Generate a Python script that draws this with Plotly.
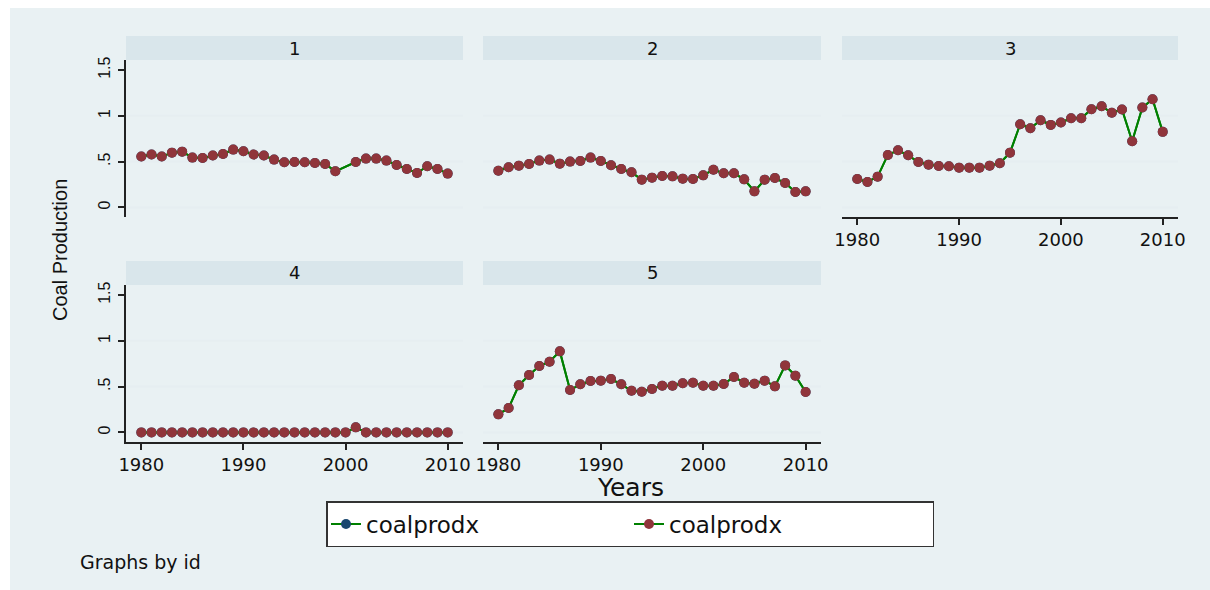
import plotly.graph_objects as go

# ---------------- data ----------------
years = list(range(1980, 2011))
panel_ids = ["1", "2", "3", "4", "5"]

coal_1 = [0.555, 0.577, 0.555, 0.598, 0.609, 0.544, 0.540, 0.566, 0.584, 0.631,
          0.613, 0.577, 0.566, 0.522, 0.493, 0.496, 0.493, 0.485, 0.474, 0.394,
          None, 0.496, 0.533, 0.533, 0.511, 0.463, 0.420, 0.376, 0.449, 0.420,
          0.369]
coal_2 = [0.401, 0.438, 0.456, 0.474, 0.511, 0.522, 0.478, 0.500, 0.507, 0.544,
          0.507, 0.460, 0.420, 0.383, 0.303, 0.325, 0.343, 0.339, 0.314, 0.310,
          0.350, 0.412, 0.372, 0.372, 0.306, 0.175, 0.303, 0.321, 0.266, 0.168,
          0.175]
coal_3 = [0.310, 0.278, 0.336, 0.573, 0.624, 0.569, 0.496, 0.467, 0.452, 0.449,
          0.434, 0.434, 0.434, 0.456, 0.482, 0.598, 0.908, 0.864, 0.952, 0.901,
          0.927, 0.974, 0.974, 1.072, 1.105, 1.033, 1.069, 0.722, 1.091, 1.181,
          0.825]
coal_4 = [0.0, 0.0, 0.0, 0.0, 0.0, 0.0, 0.0, 0.0, 0.0, 0.0,
          0.0, 0.0, 0.0, 0.0, 0.0, 0.0, 0.0, 0.0, 0.0, 0.0,
          0.0, 0.055, 0.0, 0.0, 0.0, 0.0, 0.0, 0.0, 0.0, 0.0,
          0.0]
coal_5 = [0.197, 0.266, 0.514, 0.627, 0.725, 0.772, 0.885, 0.463, 0.525, 0.561,
          0.565, 0.583, 0.525, 0.455, 0.444, 0.474, 0.510, 0.510, 0.536, 0.543,
          0.510, 0.510, 0.528, 0.605, 0.543, 0.532, 0.565, 0.503, 0.732, 0.619,
          0.441]
series = [coal_1, coal_2, coal_3, coal_4, coal_5]

series_names = ["coalprodx", "coalprodx"]
x_tickvals = [1980, 1990, 2000, 2010]
x_ticktext = ["1980", "1990", "2000", "2010"]
y_tickvals = [0, 0.5, 1, 1.5]
y_ticktext = ["0", ".5", "1", "1.5"]
grid_values = [0, 0.5, 1]

x_title = "Years"
y_title = "Coal Production"
note_text = "Graphs by id"

# ---------------- style / layout ----------------
W, H = 1210, 590
BG = "#e9f1f3"
STRIP = "#d9e6eb"
GRID = "#e6eef1"
LINE_GREEN = "#008000"
MAROON = "#90353b"
NAVY = "#1a476f"
HFONT = "DejaVu Sans"
VFONT = "Liberation Sans"

# pixel boxes of the plot regions: (left, right, top, bottom)
cols_px = [(126, 463), (483, 821), (842, 1178)]
rows_px = [(60, 217), (285, 442)]
strip_h = 24
positions = [(0, 0), (0, 1), (0, 2), (1, 0), (1, 1)]

def px_x(v):
    return v / W

def px_y(v):
    return 1 - v / H

fig = go.Figure()
layout = dict(
    width=W, height=H,
    margin=dict(l=0, r=0, t=0, b=0),
    paper_bgcolor="white",
    plot_bgcolor="white",
    showlegend=True,
)
shapes = [dict(type="rect", xref="paper", yref="paper", x0=px_x(10), x1=1,
               y0=0, y1=px_y(8), fillcolor=BG, line=dict(width=0), layer="below")]
annotations = []

for i, (r, c) in enumerate(positions):
    n = i + 1
    xa = "x" if n == 1 else f"x{n}"
    ya = "y" if n == 1 else f"y{n}"
    left, right = cols_px[c]
    top, bottom = rows_px[r]
    bottom_row_visible = (r == 1) or (c == 2)
    left_col = (c == 0)

    layout[f"xaxis{'' if n == 1 else n}"] = dict(
        domain=[px_x(left), px_x(right)], anchor=ya,
        range=[1978.5, 2011.5],
        showgrid=False, zeroline=False, automargin=False,
        showline=bottom_row_visible, linecolor="#222", linewidth=1.5,
        ticks="outside" if bottom_row_visible else "", ticklen=6, tickwidth=1.5,
        tickcolor="#222",
        tickmode="array", tickvals=x_tickvals, ticktext=x_ticktext,
        showticklabels=bottom_row_visible,
        tickfont=dict(family=HFONT, size=18, color="#111"),
    )
    layout[f"yaxis{'' if n == 1 else n}"] = dict(
        domain=[px_y(bottom), px_y(top)], anchor=xa,
        range=[-0.105, 1.61],
        showgrid=False, zeroline=False, automargin=False,
        showline=left_col, linecolor="#222", linewidth=1.5,
        ticks="outside" if left_col else "", ticklen=6, tickwidth=1.5,
        tickcolor="#222",
        tickmode="array", tickvals=y_tickvals, ticktext=y_ticktext,
        showticklabels=left_col, tickangle=-90,
        ticklabelstandoff=2,
        tickfont=dict(family=VFONT, size=16, color="#111"),
    )

    # grid lines
    for g in grid_values:
        shapes.append(dict(type="line", xref=f"{xa} domain", yref=ya,
                           x0=0, x1=1, y0=g, y1=g,
                           line=dict(color=GRID, width=2), layer="below"))
    # strip
    shapes.append(dict(type="rect", xref="paper", yref="paper",
                       x0=px_x(left), x1=px_x(right),
                       y0=px_y(top), y1=px_y(top - strip_h),
                       fillcolor=STRIP, line=dict(width=0), layer="below"))
    annotations.append(dict(text=panel_ids[i], xref="paper", yref="paper",
                            x=px_x((left + right) / 2), y=px_y(top - strip_h / 2),
                            showarrow=False, xanchor="center", yanchor="middle",
                            font=dict(family=HFONT, size=18, color="#111")))

    vals = series[i]
    for k, color in enumerate([NAVY, MAROON]):
        fig.add_trace(go.Scatter(
            x=years, y=vals, mode="lines+markers", name=series_names[k],
            xaxis=xa, yaxis=ya, connectgaps=True,
            line=dict(color=LINE_GREEN, width=2),
            marker=dict(color=color, size=10, line=dict(width=0)),
            showlegend=(n == 1), legendgroup=f"s{k}",
        ))

annotations += [
    dict(text=x_title, xref="paper", yref="paper", x=px_x(630), y=px_y(488),
         showarrow=False, xanchor="center", yanchor="middle",
         font=dict(family=HFONT, size=25, color="#111")),
    dict(text=y_title, xref="paper", yref="paper", x=px_x(60), y=px_y(250),
         showarrow=False, xanchor="center", yanchor="middle", textangle=-90,
         font=dict(family=VFONT, size=20, color="#111")),
    dict(text=note_text, xref="paper", yref="paper", x=px_x(78), y=px_y(562),
         showarrow=False, xanchor="left", yanchor="middle",
         font=dict(family=HFONT, size=19, color="#111")),
]

layout["shapes"] = shapes
layout["annotations"] = annotations
layout["legend"] = dict(
    orientation="h", xanchor="center", yanchor="middle",
    x=px_x(630), y=px_y(524),
    bgcolor="white", bordercolor="#333", borderwidth=1.5,
    font=dict(family=HFONT, size=23, color="#111"),
    entrywidth=258, entrywidthmode="pixels",
    itemsizing="trace", tracegroupgap=0,
)
fig.update_layout(**layout)
fig.write_html(
    "out.html",
    config={"displayModeBar": False},
    post_script="document.body.style.margin='0';document.body.style.overflow='hidden';",
)
